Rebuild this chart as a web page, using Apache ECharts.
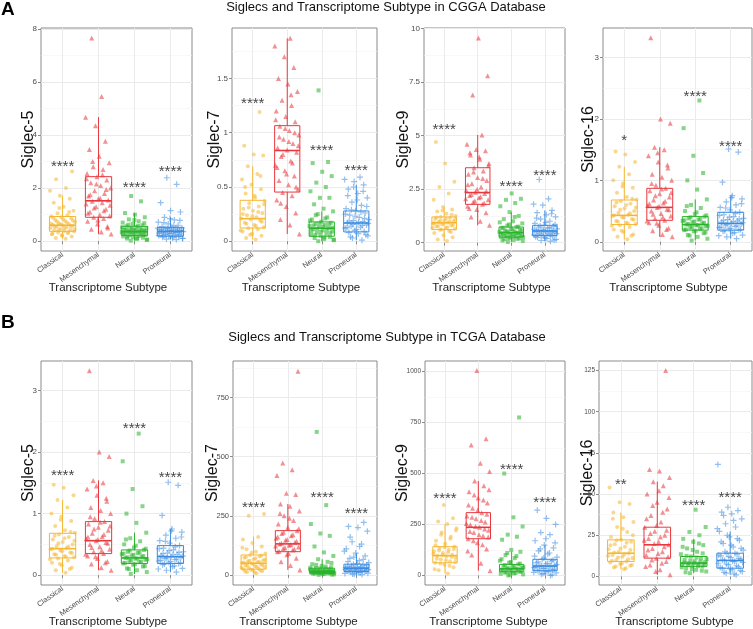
<!DOCTYPE html>
<html><head><meta charset="utf-8">
<script src="https://cdn.jsdelivr.net/npm/echarts@6/dist/echarts.min.js"></script>
<style>html,body{margin:0;padding:0;background:#fff}#c{width:753px;height:629px}</style>
</head><body><div id="c"></div><script>
// ---------- shared ----------
const categories = ['Classical', 'Mesenchymal', 'Neural', 'Proneural'];
const xLabel = 'Transcriptome Subtype';
const titleA = 'Siglecs and Transcriptome Subtype in CGGA Database';
const titleB = 'Siglecs and Transcriptome Subtype in TCGA Database';

// ---------- A1: Siglec-5 (CGGA) ----------
const a1_cla = [0.09,0.12,0.18,0.22,0.26,0.3,0.33,0.36,0.38,0.4,0.43,0.46,0.5,0.52,0.55,0.58,0.6,0.62,0.65,0.68,0.72,0.76,0.8,0.85,0.9,0.93,0.98,1.05,1.15,1.3,1.45,1.6,1.71,1.9,2.0,2.33,2.62,0.2,0.28,0.35,0.41,0.45,0.49,0.53,0.57,0.63,0.67,0.7,0.74,0.78,0.83,0.88,1.1,1.25];
const a1_mes = [0.27,0.35,0.45,0.55,0.65,0.75,0.85,0.9,0.95,1.0,1.1,1.2,1.3,1.4,1.45,1.5,1.55,1.6,1.7,1.8,1.9,2.0,2.1,2.2,2.3,2.43,2.55,2.7,2.8,2.95,3.2,3.45,3.76,4.35,4.67,5.45,7.65,0.5,0.8,1.05,1.15,1.25,1.35,1.62,1.75,1.95,2.15,2.35,2.5,3.0];
const a1_neu = [0.02,0.05,0.08,0.1,0.13,0.15,0.18,0.2,0.22,0.24,0.26,0.28,0.3,0.32,0.34,0.36,0.37,0.39,0.41,0.43,0.45,0.48,0.5,0.53,0.56,0.6,0.65,0.7,0.75,0.82,0.9,1.0,1.06,1.5,1.7,0.06,0.12,0.17,0.23,0.27,0.31,0.33,0.35,0.38,0.4,0.42,0.44,0.47,0.52,0.58,0.62,0.68,0.8];
const a1_pro = [0.06,0.08,0.1,0.12,0.15,0.17,0.19,0.21,0.23,0.25,0.27,0.29,0.31,0.33,0.35,0.36,0.37,0.38,0.4,0.42,0.44,0.46,0.48,0.5,0.52,0.55,0.6,0.65,0.72,0.8,0.9,1.1,1.15,1.45,2.14,2.39,0.11,0.16,0.2,0.24,0.28,0.3,0.32,0.34,0.39,0.41,0.43,0.45,0.47,0.49,0.58,0.7,0.78,0.85];
const a1_box = [[0.09,0.37,0.60,0.93,1.71],[0.27,0.90,1.52,2.43,4.67],[0.02,0.21,0.36,0.56,1.06],[0.06,0.19,0.37,0.52,0.90]];
const a1_stars = ['****','','****','****'];
const a1_starY = [2.93,null,2.14,2.73];
const a1_ticks = [0,2,4,6,8];
const a1_minor = [1,3,5,7];
const a1_range = [-0.37,8.03];

// ---------- A2: Siglec-7 (CGGA) ----------
const a2_cla = [0.015,0.03,0.05,0.07,0.09,0.11,0.12,0.13,0.15,0.17,0.19,0.2,0.21,0.22,0.24,0.26,0.28,0.3,0.32,0.35,0.37,0.4,0.44,0.48,0.52,0.57,0.62,0.69,0.79,0.8,0.88,1.19,0.06,0.1,0.14,0.16,0.18,0.23,0.25,0.27,0.31,0.34,0.42,0.5,0.6];
const a2_mes = [0.067,0.15,0.2,0.26,0.32,0.38,0.42,0.45,0.48,0.52,0.56,0.6,0.65,0.7,0.74,0.78,0.82,0.84,0.86,0.9,0.94,0.98,1.02,1.06,1.1,1.15,1.2,1.25,1.3,1.38,1.45,1.5,1.6,1.7,1.8,1.87,0.35,0.5,0.62,0.68,0.72,0.8,0.88,0.92,0.96,1.0,1.04,1.12,1.35];
const a2_neu = [0.0,0.01,0.02,0.03,0.04,0.05,0.06,0.07,0.08,0.09,0.1,0.11,0.12,0.13,0.14,0.15,0.16,0.17,0.18,0.2,0.22,0.25,0.275,0.3,0.34,0.4,0.4,0.46,0.5,0.54,0.6,0.64,0.72,0.73,1.39,0.015,0.035,0.055,0.075,0.085,0.095,0.105,0.115,0.125,0.135,0.145,0.155,0.165,0.19,0.21,0.24];
const a2_pro = [0.01,0.03,0.05,0.07,0.08,0.09,0.1,0.12,0.13,0.14,0.15,0.16,0.17,0.18,0.19,0.2,0.22,0.24,0.26,0.28,0.3,0.33,0.36,0.4,0.44,0.48,0.52,0.55,0.57,0.59,0.04,0.06,0.11,0.125,0.145,0.155,0.165,0.175,0.185,0.21,0.23,0.25,0.27,0.29,0.32,0.38,0.42,0.46,0.5];
const a2_box = [[0.015,0.122,0.208,0.377,0.69],[0.067,0.453,0.836,1.065,1.87],[0.0,0.046,0.12,0.178,0.275],[0.01,0.086,0.168,0.279,0.52]];
const a2_stars = ['****','','****','****'];
const a2_starY = [1.295,null,0.863,0.68];
const a2_ticks = [0,0.5,1,1.5];
const a2_minor = [0.25,0.75,1.25,1.75];
const a2_range = [-0.09,1.965];

// ---------- A3: Siglec-9 (CGGA) ----------
const a3_cla = [0.08,0.15,0.25,0.35,0.45,0.55,0.6,0.65,0.7,0.75,0.8,0.85,0.9,0.93,0.96,1.0,1.05,1.1,1.15,1.2,1.25,1.35,1.45,1.55,1.67,2.0,2.3,2.6,2.85,3.7,4.7,0.5,0.62,0.68,0.72,0.78,0.82,0.88,0.91,0.98,1.02,1.08,1.12,1.18,1.3,1.5];
const a3_mes = [0.81,1.0,1.2,1.4,1.55,1.7,1.8,1.9,2.0,2.1,2.2,2.3,2.35,2.45,2.6,2.75,2.9,3.05,3.2,3.35,3.5,3.7,3.9,4.1,4.3,4.35,4.6,5.03,6.9,7.8,9.56,1.6,1.85,1.95,2.05,2.15,2.25,2.4,2.5,2.7,3.0,3.3,3.6,4.0,4.2];
const a3_neu = [0.03,0.08,0.12,0.16,0.2,0.24,0.27,0.3,0.33,0.36,0.4,0.43,0.46,0.48,0.5,0.53,0.56,0.6,0.64,0.68,0.73,0.8,0.9,1.0,1.1,1.25,1.43,1.7,1.85,2.0,2.05,2.3,0.1,0.18,0.22,0.26,0.29,0.32,0.35,0.38,0.42,0.45,0.52,0.58,0.62,0.7,0.75,0.85,0.95,1.2];
const a3_pro = [0.06,0.1,0.15,0.2,0.25,0.3,0.33,0.36,0.4,0.44,0.48,0.52,0.54,0.56,0.6,0.64,0.68,0.72,0.76,0.81,0.9,1.0,1.1,1.2,1.3,1.4,1.51,1.75,1.8,2.05,2.95,0.12,0.22,0.28,0.35,0.38,0.42,0.46,0.5,0.53,0.58,0.62,0.7,0.78,0.85,0.95,1.15,1.35];
const a3_box = [[0.08,0.61,0.93,1.2,1.67],[0.81,1.79,2.34,3.5,5.03],[0.03,0.26,0.47,0.73,1.43],[0.06,0.33,0.545,0.81,1.51]];
const a3_stars = ['****','','****','****'];
const a3_starY = [5.4,null,2.74,3.27];
const a3_ticks = [0,2.5,5,7.5,10];
const a3_minor = [1.25,3.75,6.25,8.75];
const a3_range = [-0.39,10.03];

// ---------- A4: Siglec-16 (CGGA) ----------
const a4_cla = [0.04,0.08,0.12,0.16,0.2,0.24,0.27,0.29,0.31,0.34,0.37,0.4,0.42,0.44,0.47,0.5,0.54,0.58,0.62,0.66,0.69,0.73,0.8,0.88,0.95,1.0,1.1,1.22,1.3,1.42,1.47,0.1,0.18,0.26,0.3,0.33,0.36,0.39,0.43,0.46,0.52,0.56,0.6,0.64,0.7,0.9];
const a4_mes = [0.08,0.12,0.18,0.22,0.27,0.31,0.35,0.38,0.42,0.46,0.5,0.53,0.56,0.59,0.63,0.68,0.73,0.78,0.83,0.87,0.92,1.0,1.05,1.1,1.2,1.3,1.4,1.5,1.54,1.93,2.0,3.32,0.2,0.3,0.34,0.4,0.45,0.52,0.58,0.62,0.66,0.75,0.8,0.86,0.95,1.25,1.45];
const a4_neu = [0.02,0.05,0.08,0.11,0.14,0.17,0.19,0.21,0.23,0.25,0.27,0.28,0.3,0.32,0.34,0.36,0.38,0.41,0.45,0.5,0.55,0.6,0.69,0.85,1.0,1.12,1.4,1.85,2.3,0.1,0.15,0.18,0.2,0.22,0.24,0.26,0.27,0.29,0.31,0.33,0.35,0.37,0.4,0.43,0.48,0.58];
const a4_pro = [0.05,0.08,0.11,0.14,0.17,0.19,0.21,0.23,0.25,0.27,0.29,0.3,0.32,0.34,0.36,0.38,0.41,0.44,0.48,0.52,0.56,0.6,0.65,0.7,0.75,0.97,1.46,1.51,0.1,0.15,0.18,0.2,0.22,0.24,0.26,0.28,0.31,0.33,0.35,0.37,0.4,0.43,0.46,0.55,0.62,0.72];
const a4_box = [[0.04,0.28,0.43,0.68,1.22],[0.08,0.35,0.56,0.87,1.54],[0.02,0.19,0.28,0.41,0.69],[0.05,0.19,0.30,0.48,0.75]];
const a4_stars = ['*','','****','****'];
const a4_starY = [1.69,null,2.4,1.59];
const a4_ticks = [0,1,2,3];
const a4_minor = [0.5,1.5,2.5];
const a4_range = [-0.15,3.48];

// ---------- B1: Siglec-5 (TCGA) ----------
const b1_cla = [0.04,0.08,0.12,0.16,0.2,0.24,0.27,0.29,0.31,0.34,0.37,0.4,0.42,0.44,0.47,0.5,0.54,0.58,0.62,0.66,0.69,0.73,0.8,0.88,0.95,1.0,1.1,1.22,1.3,1.42,1.47,0.1,0.18,0.26,0.3,0.33,0.36,0.39,0.43,0.46,0.52,0.56,0.6,0.64,0.7,0.9];
const b1_mes = [0.08,0.12,0.18,0.22,0.27,0.31,0.35,0.38,0.42,0.46,0.5,0.53,0.56,0.59,0.63,0.68,0.73,0.78,0.83,0.87,0.92,1.0,1.05,1.1,1.2,1.3,1.4,1.5,1.54,1.93,2.0,3.32,0.2,0.3,0.34,0.4,0.45,0.52,0.58,0.62,0.66,0.75,0.8,0.86,0.95,1.25,1.45];
const b1_neu = [0.02,0.05,0.08,0.11,0.14,0.17,0.19,0.21,0.23,0.25,0.27,0.28,0.3,0.32,0.34,0.36,0.38,0.41,0.45,0.5,0.55,0.6,0.69,0.85,1.0,1.12,1.4,1.85,2.3,0.1,0.15,0.18,0.2,0.22,0.24,0.26,0.27,0.29,0.31,0.33,0.35,0.37,0.4,0.43,0.48,0.58];
const b1_pro = [0.05,0.08,0.11,0.14,0.17,0.19,0.21,0.23,0.25,0.27,0.29,0.3,0.32,0.34,0.36,0.38,0.41,0.44,0.48,0.52,0.56,0.6,0.65,0.7,0.75,0.97,1.46,1.51,0.1,0.15,0.18,0.2,0.22,0.24,0.26,0.28,0.31,0.33,0.35,0.37,0.4,0.43,0.46,0.55,0.62,0.72];
const b1_box = [[0.04,0.28,0.43,0.68,1.22],[0.08,0.35,0.56,0.87,1.54],[0.02,0.19,0.28,0.41,0.69],[0.05,0.19,0.30,0.48,0.75]];
const b1_stars = ['****','','****','****'];
const b1_starY = [1.66,null,2.43,1.63];
const b1_ticks = [0,1,2,3];
const b1_minor = [0.5,1.5,2.5];
const b1_range = [-0.16,3.48];

// ---------- B2: Siglec-7 (TCGA) ----------
const b2_cla = [7,12,16,20,24,26,28,32,36,40,44,48,50,53,57,61,66,72,78,84,90,98,108,120,135,150,160,250,258,10,14,18,22,30,34,38,42,46,52,55,60,64,70,76,82,95,115];
const b2_mes = [21,40,55,70,85,98,105,112,118,125,131,138,146,155,165,175,187,200,215,230,250,270,290,300,340,345,420,445,473,862,90,100,108,115,122,128,134,142,150,160,170,180,195,240,260];
const b2_neu = [0,2,4,6,7,8,9,11,13,14,15,16,18,20,23,26,28,32,38,45,55,66,80,95,120,165,175,215,295,605,1,3,5,6,7,8,10,10,12,12,13,14,15,17,19,21,24,27,30,35,42,50];
const b2_pro = [1,4,7,10,14,17,20,23,26,28,30,33,36,40,45,52,60,70,80,92,110,130,140,185,200,205,222,3,6,9,12,15,16,18,19,21,22,24,25,27,29,31,34,38,42,48,56,65,75,100,120,160];
const b2_box = [[7,24,49,84,162],[21,98,131,187,300],[0,7,14,28,66],[1,14,28,45,92]];
const b2_stars = ['****','','****','****'];
const b2_starY = [295,null,338,272];
const b2_ticks = [0,250,500,750];
const b2_minor = [125,375,625,875];
const b2_range = [-43,905];

// ---------- B3: Siglec-9 (TCGA) ----------
const b3_cla = [10,25,40,52,62,70,78,86,94,97,102,110,118,126,134,141,155,170,190,210,232,252,265,280,345,30,48,58,66,74,82,90,100,106,114,122,130,138,148,180,200,220];
const b3_mes = [23,60,100,130,160,180,195,210,222,236,248,262,278,292,308,330,355,380,410,440,463,510,550,640,670,1005,120,150,170,188,200,215,228,240,255,270,285,300,320,345,370,395,420];
const b3_neu = [0,5,10,14,18,22,26,30,33,37,42,48,54,62,72,85,100,116,125,175,190,200,240,285,500,775,3,8,12,16,20,24,28,31,35,40,45,50,58,66,80,95,110];
const b3_pro = [0,6,12,18,23,28,33,38,43,46,50,56,62,70,79,90,105,120,135,149,170,200,210,250,280,320,3,9,15,20,26,31,36,41,45,48,53,59,66,74,85,95,110,130,160,180];
const b3_box = [[10,62,97,141,252],[23,180,236,308,463],[0,18,33,54,116],[0,23,46,79,149]];
const b3_stars = ['****','','****','****'];
const b3_starY = [391,null,532,370];
const b3_ticks = [0,250,500,750,1000];
const b3_minor = [125,375,625,875];
const b3_range = [-47,1052];

// ---------- B4: Siglec-16 (TCGA) ----------
const b4_cla = [4.4,5.5,6.5,7.5,8.5,9.1,10,11,12,13,14.1,15,16.5,18,19.5,21,22.2,24,27,30,33,36,38.8,44,45,54,5,6,7,8,9.5,10.5,11.5,12.5,13.5,14.5,16,17,19,20.5,22,25,29,35];
const b4_mes = [1,4,7,9,11.1,13,15,17,19.2,21,23,25,27.5,29.9,33,37,41,45,50,55,57.5,60,64,65,125,3,6,8,10,12,14,16,18,20,22,24,26,28,31,35,39,43,48,52];
const b4_neu = [2,3,4,5,6.1,6.6,7.2,7.7,8.1,8.6,9.2,10,11,12.1,13.5,15,17,19,21,22.8,25,27,30,40.5,2.5,3.5,4.5,5.5,6.3,6.9,7.5,8,8.4,9,9.6,10.5,11.5,12.5,14,16,18,20];
const b4_pro = [1,2,3,4,5,6,7,8,9,9.7,10.5,11.5,12.5,13.5,14.1,16,18,20,22,24,27.3,30,32,35,38,39,40,42,68,1.5,2.5,3.5,4.5,5.5,6.5,7.5,8.5,9.2,10,11,12,13,14,15,17,19,21,23,25,29,34,37];
const b4_box = [[4.4,9.1,14.1,22.2,38.8],[1,11.1,19.2,29.9,57.5],[2,6.1,8.1,12.1,22.8],[1,5,9.7,14.1,27.3]];
const b4_stars = ['**','','****','****'];
const b4_starY = [57.6,null,44.8,49.5];
const b4_ticks = [0,25,50,75,100,125];
const b4_minor = [12.5,37.5,62.5,87.5,112.5];
const b4_range = [-5.2,130.8];

// ---------- assemble ----------
const panels = [
  {name:'Siglec-5', pts:[a1_cla,a1_mes,a1_neu,a1_pro], box:a1_box, stars:a1_stars, starY:a1_starY, ticks:a1_ticks, minor:a1_minor, range:a1_range},
  {name:'Siglec-7', pts:[a2_cla,a2_mes,a2_neu,a2_pro], box:a2_box, stars:a2_stars, starY:a2_starY, ticks:a2_ticks, minor:a2_minor, range:a2_range},
  {name:'Siglec-9', pts:[a3_cla,a3_mes,a3_neu,a3_pro], box:a3_box, stars:a3_stars, starY:a3_starY, ticks:a3_ticks, minor:a3_minor, range:a3_range},
  {name:'Siglec-16', pts:[a4_cla,a4_mes,a4_neu,a4_pro], box:a4_box, stars:a4_stars, starY:a4_starY, ticks:a4_ticks, minor:a4_minor, range:a4_range},
  {name:'Siglec-5', pts:[b1_cla,b1_mes,b1_neu,b1_pro], box:b1_box, stars:b1_stars, starY:b1_starY, ticks:b1_ticks, minor:b1_minor, range:b1_range},
  {name:'Siglec-7', pts:[b2_cla,b2_mes,b2_neu,b2_pro], box:b2_box, stars:b2_stars, starY:b2_starY, ticks:b2_ticks, minor:b2_minor, range:b2_range},
  {name:'Siglec-9', pts:[b3_cla,b3_mes,b3_neu,b3_pro], box:b3_box, stars:b3_stars, starY:b3_starY, ticks:b3_ticks, minor:b3_minor, range:b3_range},
  {name:'Siglec-16', pts:[b4_cla,b4_mes,b4_neu,b4_pro], box:b4_box, stars:b4_stars, starY:b4_starY, ticks:b4_ticks, minor:b4_minor, range:b4_range}
];

// layout (pixels)
const layout = [
  {left:41, top:28, width:151, height:223, gap:4, xPad:17, tickFont:8},
  {left:232, top:28, width:145, height:223, gap:9, xPad:7, tickFont:8},
  {left:424, top:28, width:141, height:223, gap:12, xPad:6, tickFont:8},
  {left:603, top:28, width:149, height:223, gap:6, xPad:18, tickFont:8},
  {left:41, top:361, width:151, height:224, gap:4, xPad:17, tickFont:8},
  {left:233, top:361, width:144, height:224, gap:12, xPad:13, tickFont:7.5},
  {left:425, top:361, width:140, height:224, gap:14, xPad:13, tickFont:6.5},
  {left:599, top:361, width:153, height:224, gap:3, xPad:2, tickFont:6.5}
];
const colors = ['#F5B731', '#E8373D', '#27B32A', '#3A8BE0'];
const symbols = ['circle', 'triangle', 'rect', 'path://M4,0H6V10H4Z M0,4H10V6H0Z'];
const symSizes = [4, 5, 4, 6];
const FONT = 'Liberation Sans, Arial, sans-serif';

function jitter(i, k) {
  const u = ((i + 1) * 0.6180339887 + k * 0.37) % 1;
  return (u - 0.5) * 0.72;
}

const grid = [], xAxis = [], yAxis = [], series = [];
panels.forEach((p, g) => {
  const L = layout[g];
  grid.push({left:L.left, top:L.top, width:L.width, height:L.height, show:true,
    borderColor:'#8a8a8a', borderWidth:1, backgroundColor:'#fff', containLabel:false});
  xAxis.push({gridIndex:g, type:'value', min:0.4, max:4.6,
    name:xLabel, nameLocation:'middle', nameGap:31, nameMoveOverlap:false,
    nameTextStyle:{fontSize:11.5, color:'#222', fontFamily:FONT, padding:[0, L.xPad, 0, 0]},
    axisLine:{show:false},
    axisTick:{show:true, length:3, lineStyle:{color:'#8a8a8a'}, customValues:[1,2,3,4]},
    axisLabel:{show:true, customValues:[1,2,3,4], rotate:35, margin:3, fontSize:7.5, color:'#4d4d4d', fontFamily:FONT,
      formatter: v => categories[Math.round(v) - 1]},
    splitLine:{show:true, lineStyle:{color:'#EBEBEB', width:1}}});
  yAxis.push({gridIndex:g, type:'value', min:p.range[0], max:p.range[1],
    name:p.name, nameLocation:'middle', nameGap:L.gap, nameRotate:90, nameMoveOverlap:false,
    nameTextStyle:{fontSize:16, color:'#111', fontFamily:FONT},
    axisLine:{show:false},
    axisTick:{show:true, length:3, lineStyle:{color:'#8a8a8a'}, customValues:p.ticks},
    axisLabel:{show:true, customValues:p.ticks, margin:4, fontSize:L.tickFont, color:'#4d4d4d', fontFamily:FONT,
      formatter: v => String(v)},
    splitLine:{show:true, lineStyle:{color:'#EBEBEB', width:1}}});
  yAxis.push({gridIndex:g, type:'value', min:p.range[0], max:p.range[1],
    axisLine:{show:false},
    axisTick:{show:false, customValues:p.minor},
    axisLabel:{show:false, customValues:p.minor},
    splitLine:{show:true, lineStyle:{color:'#F3F3F3', width:0.6}}});
  const yIdx = 2 * g;
  // jittered points
  p.pts.forEach((vals, k) => {
    series.push({type:'scatter', xAxisIndex:g, yAxisIndex:yIdx, symbol:symbols[k], symbolSize:symSizes[k],
      itemStyle:{color:colors[k], opacity:0.55}, silent:true, z:2,
      data: vals.map((v, i) => [k + 1 + jitter(i, k), v])});
  });
  // boxes
  series.push({type:'custom', xAxisIndex:g, yAxisIndex:yIdx, z:3, silent:true,
    encode:{x:0, y:[1,2,3,4,5]},
    data: p.box.map((b, k) => [k + 1, b[0], b[1], b[2], b[3], b[4]]),
    renderItem: (params, api) => {
      const x = api.value(0);
      const c = colors[params.dataIndex];
      const lo = api.coord([x, api.value(1)]), q1 = api.coord([x, api.value(2)]),
            md = api.coord([x, api.value(3)]), q3 = api.coord([x, api.value(4)]),
            hi = api.coord([x, api.value(5)]);
      const hw = api.size([0.365, 0])[0];
      return {type:'group', children:[
        {type:'line', shape:{x1:hi[0], y1:hi[1], x2:q3[0], y2:q3[1]}, style:{stroke:c, lineWidth:1}},
        {type:'line', shape:{x1:q1[0], y1:q1[1], x2:lo[0], y2:lo[1]}, style:{stroke:c, lineWidth:1}},
        {type:'rect', shape:{x:q3[0] - hw, y:q3[1], width:2 * hw, height:q1[1] - q3[1]}, style:{fill:'none', stroke:c, lineWidth:1}},
        {type:'line', shape:{x1:md[0] - hw, y1:md[1], x2:md[0] + hw, y2:md[1]}, style:{stroke:c, lineWidth:1.6}}
      ]};
    }});
  // significance stars
  series.push({type:'scatter', xAxisIndex:g, yAxisIndex:yIdx, symbolSize:1, silent:true, z:4,
    itemStyle:{color:'rgba(0,0,0,0)'},
    label:{show:true, position:'inside', offset:[0, 3], fontSize:15, color:'#111', fontFamily:FONT,
      formatter: q => q.value[2]},
    data: p.starY.map((y, k) => y == null ? null : [k + 1, y, p.stars[k]]).filter(d => d)});
});

const chart = echarts.init(document.getElementById('c'));
chart.setOption({
  animation:false,
  backgroundColor:'#fff',
  grid, xAxis, yAxis, series,
  graphic:[
    {type:'text', x:1, y:0, style:{text:'A', font:'bold 19px ' + FONT, fill:'#000'}},
    {type:'text', x:1, y:313, style:{text:'B', font:'bold 19px ' + FONT, fill:'#000'}},
    {type:'text', x:386, y:7, style:{text:titleA, font:'13px ' + FONT, fill:'#111', textAlign:'center', textVerticalAlign:'middle'}},
    {type:'text', x:387, y:337, style:{text:titleB, font:'13px ' + FONT, fill:'#111', textAlign:'center', textVerticalAlign:'middle'}}
  ]
});
</script></body></html>
